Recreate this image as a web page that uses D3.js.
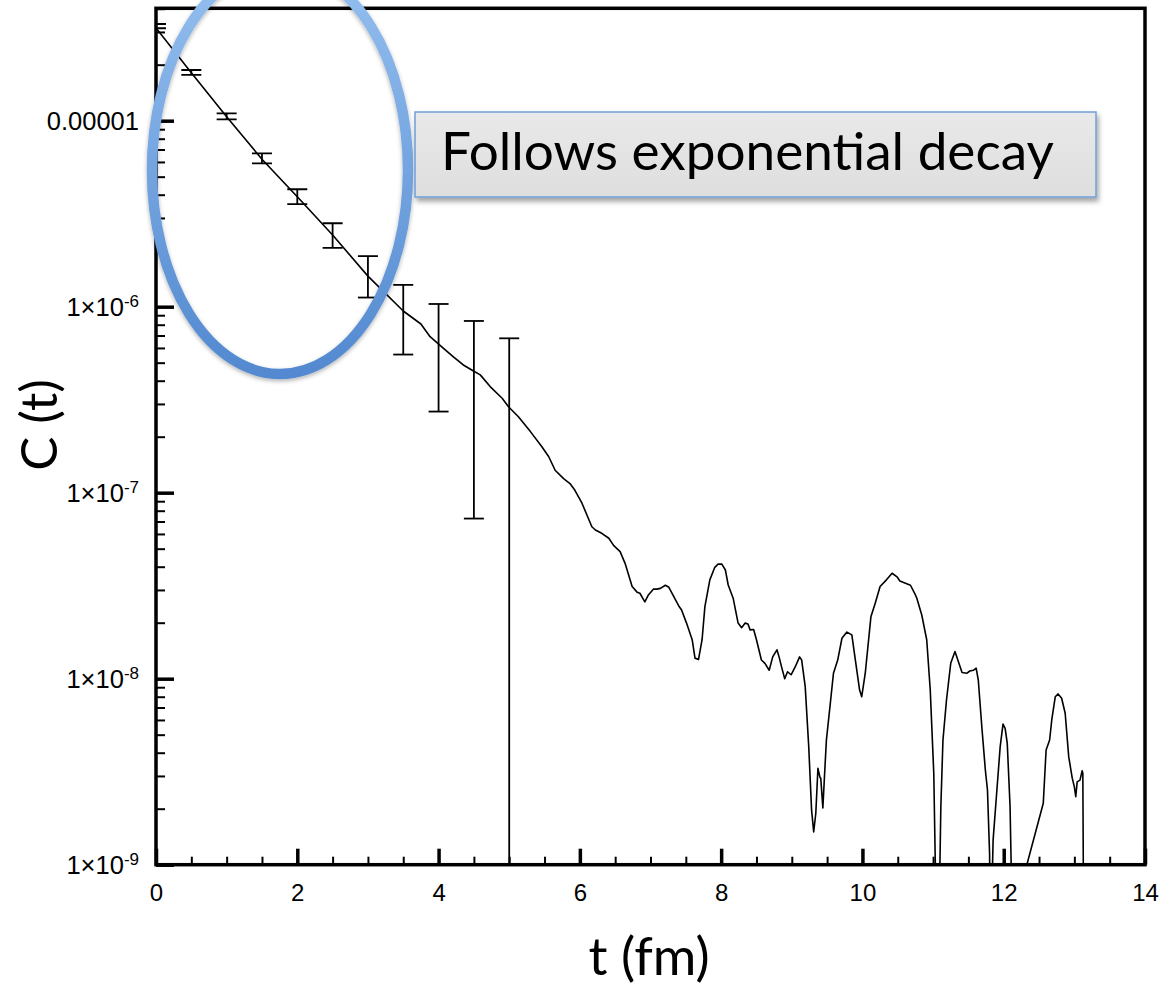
<!DOCTYPE html>
<html>
<head>
<meta charset="utf-8">
<script src="https://cdn.jsdelivr.net/npm/d3@7"></script>
<style>
  html, body { margin: 0; padding: 0; background: #fff; }
  svg { display: block; }
</style>
</head>
<body>
<svg id="chart" width="1174" height="985"></svg>
<script>
// Correlator C(t) versus Euclidean time t (fm)
const tValues = [
  0, 0.5, 1, 1.5, 2, 2.5, 3, 3.5, 3.75, 3.88, 4.07, 4.21, 4.35, 4.47, 4.59, 4.73, 4.9, 4.99,
  5.13, 5.3, 5.46, 5.56, 5.65, 5.77, 5.86, 5.93, 6.03, 6.1, 6.17, 6.22, 6.31, 6.41, 6.48, 6.57,
  6.64, 6.74, 6.81, 6.85, 6.92, 6.97, 7.04, 7.09, 7.14, 7.21, 7.26, 7.33, 7.4, 7.44, 7.51, 7.59,
  7.63, 7.68, 7.73, 7.77, 7.84, 7.91, 7.96, 8.01, 8.06, 8.1, 8.17, 8.24, 8.29, 8.34, 8.38, 8.41,
  8.46, 8.5, 8.57, 8.62, 8.68, 8.73, 8.79, 8.82, 8.86, 8.9, 8.94, 8.99, 9.05, 9.11, 9.14, 9.19,
  9.24, 9.28, 9.31, 9.34, 9.37, 9.4, 9.41, 9.44, 9.46, 9.49, 9.54, 9.59, 9.65, 9.71, 9.78, 9.85,
  9.9, 9.96, 9.99, 10.04, 10.12, 10.18, 10.25, 10.34, 10.42, 10.49, 10.53, 10.68, 10.75, 10.77,
  10.84, 10.91, 10.96, 11.01, 11.03, 11.06, 11.08, 11.11, 11.14, 11.19, 11.25, 11.31, 11.36,
  11.41, 11.48, 11.52, 11.57, 11.61, 11.64, 11.69, 11.74, 11.77, 11.8, 11.81, 11.85, 11.9,
  11.95, 11.99, 12.02, 12.05, 12.09, 12.12, 12.56, 12.6, 12.65, 12.68, 12.73, 12.77, 12.82,
  12.87, 12.92, 12.97, 13.0, 13.02, 13.04, 13.08, 13.11, 13.12, 13.14
];
const cValues = [
  3.15e-5, 1.81e-5, 1.05e-5, 6.2e-6, 3.9e-6, 2.43e-6, 1.46e-6, 9.48e-7, 8.07e-7, 6.9e-7, 5.97e-7, 5.38e-7, 4.86e-7, 4.57e-7, 4.3e-7, 3.72e-7, 3.22e-7, 2.9e-7,
  2.56e-7, 2.13e-7, 1.77e-7, 1.56e-7, 1.32e-7, 1.19e-7, 1.12e-7, 1.03e-7, 8.78e-8, 7.59e-8, 6.56e-8, 6.3e-8, 6.05e-8, 5.69e-8, 5.19e-8, 4.82e-8,
  4.17e-8, 3.13e-8, 2.92e-8, 2.88e-8, 2.59e-8, 2.82e-8, 3.03e-8, 3.03e-8, 3.06e-8, 3.18e-8, 3.1e-8, 2.76e-8, 2.46e-8, 2.34e-8, 1.99e-8, 1.62e-8,
  1.29e-8, 1.27e-8, 1.62e-8, 2.44e-8, 3.4e-8, 3.97e-8, 4.14e-8, 4.13e-8, 3.84e-8, 3.19e-8, 2.71e-8, 1.99e-8, 1.88e-8, 1.99e-8, 1.97e-8, 1.83e-8,
  1.84e-8, 1.62e-8, 1.26e-8, 1.21e-8, 1.11e-8, 1.31e-8, 1.43e-8, 1.31e-8, 1.14e-8, 1.0e-8, 1.09e-8, 1.05e-8, 1.16e-8, 1.31e-8, 1.26e-8, 9.06e-9,
  4.31e-9, 1.97e-9, 1.5e-9, 1.89e-9, 3.3e-9, 2.94e-9, 2.92e-9, 2.02e-9, 2.85e-9, 4.68e-9, 7.06e-9, 1.07e-8, 1.26e-8, 1.65e-8, 1.78e-8, 1.72e-8,
  1.26e-8, 8.69e-9, 8.0e-9, 1.07e-8, 2.15e-8, 2.54e-8, 3.13e-8, 3.4e-8, 3.69e-8, 3.53e-8, 3.35e-8, 3.18e-8, 2.82e-8, 2.71e-8,
  2.2e-8, 1.62e-8, 8.69e-9, 3.1e-9, 1.1e-9, 3e-10, 4e-10, 2.05e-9, 4.68e-9, 7.68e-9, 1.21e-8, 1.4e-8, 1.23e-8,
  1.08e-8, 1.07e-8, 1.1e-8, 1.11e-8, 1.14e-8, 9.84e-9, 5.52e-9, 3.23e-9, 2.52e-9, 1.15e-9, 3e-10, 1.36e-9, 2.42e-9,
  4.31e-9, 5.7e-9, 5.4e-9, 4.5e-9, 2.05e-9, 5.06e-10, 2.14e-9, 4.14e-9, 4.68e-9, 6.0e-9, 8.0e-9, 8.28e-9, 7.85e-9,
  6.52e-9, 3.81e-9, 2.92e-9, 2.62e-9, 2.32e-9, 2.79e-9, 2.85e-9, 3.2e-9, 3.1e-9, 1e-10
];

// Error bars at the sampled time slices (upper / lower bounds; 0 = below the axis)
const errT    = [0, 0.5, 1, 1.5, 2, 2.5, 3, 3.5, 4, 4.5, 5];
const errHigh = [3.31e-5, 1.873e-5, 1.096e-5, 6.68e-6, 4.28e-6, 2.81e-6, 1.87e-6, 1.31e-6, 1.034e-6, 8.38e-7, 6.76e-7];
const errLow  = [3.14e-5, 1.762e-5, 1.017e-5, 5.9e-6, 3.56e-6, 2.07e-6, 1.12e-6, 5.53e-7, 2.73e-7, 7.26e-8, 0];

// Axis ticks
const xTicks = [0, 2, 4, 6, 8, 10, 12, 14];
const xMinorStep = 0.5;
const yTicks = [1e-9, 1e-8, 1e-7, 1e-6, 1e-5];
const yTickLabels = ["1×10^-9", "1×10^-8", "1×10^-7", "1×10^-6", "0.00001"];
const xDomain = [0, 14];
const yDomain = [1e-9, 4.02e-5];

const xTitle = "t (fm)";
const yTitle = "C (t)";
const calloutText = "Follows exponential decay";

// ---- layout ----
const plot = { left: 156, right: 1145, top: 8.3, bottom: 864.7 };
const svg = d3.select("#chart");
const x = d3.scaleLinear().domain(xDomain).range([plot.left, plot.right]);
const y = d3.scaleLog().domain(yDomain).range([plot.bottom, plot.top]);

const defs = svg.append("defs");
defs.append("clipPath").attr("id", "plotClip")
  .append("rect")
  .attr("x", plot.left).attr("y", plot.top)
  .attr("width", plot.right - plot.left).attr("height", plot.bottom - plot.top);

const ringGrad = defs.append("linearGradient").attr("id", "ringGrad")
  .attr("x1", 0).attr("y1", 0).attr("x2", 0).attr("y2", 1);
ringGrad.append("stop").attr("offset", "0%").attr("stop-color", "#95c0f0");
ringGrad.append("stop").attr("offset", "100%").attr("stop-color", "#5389d0");

const boxGrad = defs.append("linearGradient").attr("id", "boxGrad")
  .attr("x1", 0).attr("y1", 0).attr("x2", 0).attr("y2", 1);
boxGrad.append("stop").attr("offset", "0%").attr("stop-color", "#e9e9e9");
boxGrad.append("stop").attr("offset", "100%").attr("stop-color", "#dedede");

const shadow = defs.append("filter").attr("id", "softShadow")
  .attr("x", "-10%").attr("y", "-10%").attr("width", "130%").attr("height", "140%");
shadow.append("feDropShadow").attr("dx", 2).attr("dy", 4).attr("stdDeviation", 2.5)
  .attr("flood-color", "#000").attr("flood-opacity", 0.35);

const ringShadow = defs.append("filter").attr("id", "ringShadow")
  .attr("x", "-10%").attr("y", "-10%").attr("width", "130%").attr("height", "130%");
ringShadow.append("feDropShadow").attr("dx", 0).attr("dy", 2).attr("stdDeviation", 2)
  .attr("flood-color", "#000").attr("flood-opacity", 0.3);

// ---- data ----
const dataG = svg.append("g").attr("clip-path", "url(#plotClip)");

const series = tValues.map((t, i) => ({ t, c: cValues[i] }));
const line = d3.line().x(d => x(d.t)).y(d => y(d.c));
dataG.append("path")
  .datum(series)
  .attr("d", line)
  .attr("fill", "none")
  .attr("stroke", "#000")
  .attr("stroke-width", 1.6)
  .attr("stroke-linejoin", "round");

const bars = errT.map((t, i) => ({ t, hi: errHigh[i], lo: errLow[i] }));
const yOrBottom = v => (v > yDomain[0] ? y(v) : plot.bottom);
const capHalf = 10;
const barG = dataG.selectAll("g.err").data(bars).join("g").attr("class", "err")
  .attr("stroke", "#000").attr("stroke-width", 1.8);
barG.append("line")
  .attr("x1", d => x(d.t)).attr("x2", d => x(d.t))
  .attr("y1", d => y(d.hi)).attr("y2", d => yOrBottom(d.lo));
barG.append("line")
  .attr("x1", d => x(d.t) - capHalf).attr("x2", d => x(d.t) + capHalf)
  .attr("y1", d => y(d.hi)).attr("y2", d => y(d.hi));
barG.filter(d => d.lo > yDomain[0]).append("line")
  .attr("x1", d => x(d.t) - capHalf).attr("x2", d => x(d.t) + capHalf)
  .attr("y1", d => y(d.lo)).attr("y2", d => y(d.lo));

// ---- axes (ticks point into the frame) ----
const tickFont = "'Liberation Sans', Arial, Helvetica, sans-serif";

const yMinor = [];
for (let e = -9; e <= -5; e++) {
  for (let m = 2; m <= 9; m++) {
    const v = m * Math.pow(10, e);
    if (v < yDomain[1]) yMinor.push(v);
  }
}
const xMinor = d3.range(xDomain[0], xDomain[1] + 1e-9, xMinorStep).filter(v => !xTicks.includes(v));

const gyMinor = svg.append("g").attr("transform", `translate(${plot.left},0)`)
  .call(d3.axisLeft(y).tickValues(yMinor).tickSize(-9).tickFormat(""));
const gy = svg.append("g").attr("transform", `translate(${plot.left},0)`)
  .call(d3.axisLeft(y).tickValues(yTicks).tickSize(-18).tickPadding(17).tickFormat(""));
const gxMinor = svg.append("g").attr("transform", `translate(0,${plot.bottom})`)
  .call(d3.axisBottom(x).tickValues(xMinor).tickSize(-8).tickFormat(""));
const gx = svg.append("g").attr("transform", `translate(0,${plot.bottom})`)
  .call(d3.axisBottom(x).tickValues(xTicks).tickSize(-16).tickPadding(19).tickFormat(d3.format("d")));

[gyMinor, gy, gxMinor, gx].forEach(g => g.select(".domain").remove());
[gyMinor, gxMinor].forEach(g => g.selectAll(".tick line").attr("stroke", "#000").attr("stroke-width", 2));
[gy, gx].forEach(g => g.selectAll(".tick line").attr("stroke", "#000").attr("stroke-width", 3.5));

gx.selectAll(".tick text")
  .attr("font-family", tickFont).attr("font-size", 24).attr("fill", "#000");

gy.selectAll(".tick text").each(function(d, i) {
  const label = yTickLabels[i];
  const sel = d3.select(this)
    .attr("font-family", tickFont).attr("font-size", 25.5).attr("fill", "#000")
    .attr("dy", "0.36em");
  sel.text(null);
  const parts = label.split("^");
  sel.append("tspan").text(parts[0]);
  if (parts.length > 1) {
    sel.append("tspan").attr("dy", "-0.55em").attr("font-size", 17).text(parts[1]);
  }
});

// frame
svg.append("rect")
  .attr("x", plot.left).attr("y", plot.top)
  .attr("width", plot.right - plot.left).attr("height", plot.bottom - plot.top)
  .attr("fill", "none").attr("stroke", "#000").attr("stroke-width", 3.5);

// axis titles
const titleFont = "Lato, 'Open Sans', sans-serif";
svg.append("text")
  .attr("x", 649).attr("y", 975)
  .attr("text-anchor", "middle")
  .attr("font-family", titleFont).attr("font-size", 53).attr("fill", "#000")
  .text(xTitle);
svg.append("text")
  .attr("transform", "translate(57,425) rotate(-90)")
  .attr("text-anchor", "middle")
  .attr("font-family", titleFont).attr("font-size", 51).attr("fill", "#000")
  .text(yTitle);

// highlight ring around the early-time points
svg.append("ellipse")
  .attr("cx", 280).attr("cy", 170).attr("rx", 128).attr("ry", 204)
  .attr("fill", "none")
  .attr("stroke", "url(#ringGrad)")
  .attr("stroke-width", 10.5)
  .attr("filter", "url(#ringShadow)");

// callout box
const box = { x: 415, y: 112, w: 681, h: 85 };
svg.append("rect")
  .attr("x", box.x).attr("y", box.y).attr("width", box.w).attr("height", box.h)
  .attr("fill", "url(#boxGrad)")
  .attr("stroke", "#6f9fd8").attr("stroke-width", 1.5)
  .attr("filter", "url(#softShadow)");
const ct = svg.append("text")
  .attr("x", 441).attr("y", 170)
  .attr("font-family", "Lato, 'Open Sans', sans-serif")
  .attr("font-size", 48).attr("fill", "#000")
  .text(calloutText);
// size the callout text to span the box interior
const targetW = 613;
const w0 = ct.node().getComputedTextLength();
ct.attr("font-size", 48 * targetW / w0);
</script>
</body>
</html>
